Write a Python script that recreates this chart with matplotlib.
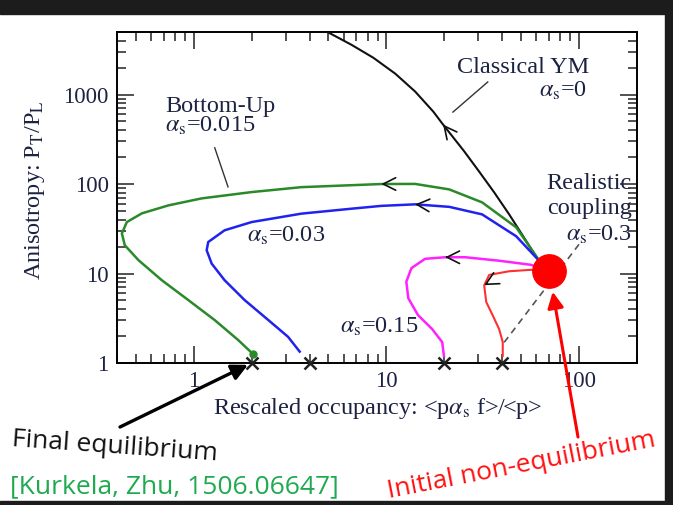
import numpy as np
import matplotlib
matplotlib.use('Agg')
import matplotlib.pyplot as plt
from matplotlib.ticker import LogLocator, NullFormatter, FuncFormatter
from matplotlib.patches import Rectangle

# every trajectory leaves from the initial (non-equilibrium) point
start_x, start_y = 70, 10.6

ym_x = [70, 60.6, 51.3, 43.4, 36.3, 30.3, 25.4, 19.7, 17.52, 14.13, 11.13, 8.56, 6.59, 4.95]
ym_y = [10.6, 14.8, 26.1, 45.8, 80.6, 138, 231, 462, 645, 1077, 1710, 2578, 3600, 5000]

bu_x = [70, 61.3, 47.2, 31.4, 21.2, 14.1, 9.42, 3.63, 2.0, 1.10, 0.739, 0.538,
        0.450, 0.424, 0.439, 0.517, 0.683, 0.939, 1.285, 1.705, 2.04]
bu_y = [10.6, 14.6, 32.8, 62.4, 87.1, 100.3, 100, 92.3, 81.3, 69.1, 57.7, 47.0,
        37.6, 28.1, 20.7, 14.1, 8.42, 5.04, 3.02, 1.80, 1.25]

a03_x = [70, 61.3, 47.2, 31.4, 21.2, 14.1, 9.42, 6.59, 3.63, 2.0, 1.447, 1.19,
         1.168, 1.24, 1.447, 1.84, 2.44, 3.09, 3.55]
a03_y = [10.6, 14.3, 26.1, 45.8, 55.6, 59.3, 57.0, 53.0, 46.7, 37.6, 30.4, 22.5,
         18.2, 12.9, 8.42, 5.04, 3.02, 1.96, 1.34]

a15_x = [70, 56.4, 38.5, 25.7, 20.2, 15.9, 13.5, 12.7, 13.0, 14.6, 17.3, 19.5, 19.9]
a15_y = [10.6, 12.5, 13.9, 15.2, 15.2, 14.6, 11.5, 8.1, 5.3, 3.43, 2.39, 1.71, 1.2]

a3_x = [70, 56.4, 43.4, 34.2, 32.2, 33.0, 35.6, 38.5, 40.2, 40.2]
a3_y = [10.6, 11.0, 10.6, 9.65, 7.4, 4.81, 3.43, 2.39, 1.71, 1.2]

# end points (thermal equilibrium) on the P_T/P_L = 1 line
final_x = [2, 4, 20, 40]
final_y = [1, 1, 1, 1]

dash_x = [40.9, 101]
dash_y = [1.7, 21.8]

x_ticks = [1, 10, 100]
y_ticks = [1, 10, 100, 1000]

serif = 'Liberation Serif'
sans = 'Open Sans'
txt_col = '#1c2242'
plt.rcParams['mathtext.fontset'] = 'stix'


def draw_chevron(ax, xs, ys, i, back=None):
    # open arrow head at point i, pointing away from point `back` (default i-1)
    if back is None:
        back = i - 1
    p0 = ax.transData.transform((xs[back], ys[back]))
    p1 = ax.transData.transform((xs[i], ys[i]))
    d = (p1 - p0) / np.hypot(*(p1 - p0))
    tail = ax.transData.inverted().transform(p1 - 3 * d)
    ax.annotate('', xy=(xs[i], ys[i]), xytext=tail,
                arrowprops=dict(arrowstyle='->,head_length=0.9,head_width=0.45',
                                color='#111111', lw=1.2, shrinkA=0, shrinkB=0,
                                mutation_scale=10))


fig = plt.figure(figsize=(6.73, 5.05), dpi=100)
ax = fig.add_axes([117 / 673, 1 - 363 / 505, 520 / 673, 331 / 505])
ax.set_xscale('log')
ax.set_yscale('log')
ax.set_xlim(0.4, 200)
ax.set_ylim(1, 5000)

ax.plot(dash_x, dash_y, ls=(0, (4, 3)), color='#555555', lw=1.2, zorder=2)
ax.plot(ym_x, ym_y, color='#111111', lw=1.5, zorder=3)
ax.plot(bu_x, bu_y, color='#2a8a2a', lw=1.8, zorder=3)
ax.plot(a03_x, a03_y, color='#2222ee', lw=1.8, zorder=3)
ax.plot(a15_x, a15_y, color='#ff22ff', lw=1.8, zorder=3)
ax.plot(a3_x, a3_y, color='#ff3030', lw=1.5, zorder=3)

draw_chevron(ax, ym_x, ym_y, 7)
draw_chevron(ax, bu_x, bu_y, 6)
draw_chevron(ax, a03_x, a03_y, 5)
draw_chevron(ax, a15_x, a15_y, 4)
draw_chevron(ax, a3_x, a3_y, 4, back=2)

ax.plot(bu_x[-1], bu_y[-1], 'o', ms=5, color='#2a8a2a', zorder=4, clip_on=False)
ax.plot(final_x, final_y, 'x', ms=9, mew=1.8, color='#222222', zorder=6, clip_on=False)
ax.plot(start_x, start_y, 'o', ms=24, color='#ff0000', zorder=7)

# axes styling
for s in ax.spines.values():
    s.set_linewidth(1.4)
ax.xaxis.set_minor_locator(LogLocator(base=10, subs=np.arange(2, 10)))
ax.yaxis.set_minor_locator(LogLocator(base=10, subs=np.arange(2, 10)))
ax.set_xticks(x_ticks)
ax.set_yticks(y_ticks)
fmt = FuncFormatter(lambda v, p: '%g' % v)
ax.xaxis.set_major_formatter(fmt)
ax.yaxis.set_major_formatter(fmt)
ax.xaxis.set_minor_formatter(NullFormatter())
ax.yaxis.set_minor_formatter(NullFormatter())
ax.tick_params(which='both', direction='in', top=True, right=True, width=1.1,
               colors='#222222', labelcolor=txt_col)
ax.tick_params(which='major', length=12, labelsize=16.5, pad=6)
ax.tick_params(which='minor', length=6.5)
for lab in ax.get_xticklabels() + ax.get_yticklabels():
    lab.set_fontfamily(serif)

ax.set_xlabel(r'Rescaled occupancy: <p$\alpha_{\rm s}$ f>/<p>', fontsize=17.5,
              family=serif, color=txt_col, va='center')
ax.xaxis.set_label_coords(0.502, -0.136)
ax.set_ylabel(r'Anisotropy: P$_{\rm T}$/P$_{\rm L}$', fontsize=17.5,
              family=serif, color=txt_col, va='center')
ax.yaxis.set_label_coords(-0.158, 0.523)

# curve labels
tk = dict(transform=ax.transAxes, fontsize=17.5, family=serif, color=txt_col, va='baseline')
ax.text(0.781, 0.876, 'Classical YM', ha='center', **tk)
ax.text(0.904, 0.804, r'$\alpha_{\rm s}$=0', ha='right', **tk)
ax.text(0.092, 0.758, 'Bottom-Up', ha='left', **tk)
ax.text(0.092, 0.698, r'$\alpha_{\rm s}$=0.015', ha='left', **tk)
ax.text(0.25, 0.366, r'$\alpha_{\rm s}$=0.03', ha='left', **tk)
ax.text(0.429, 0.091, r'$\alpha_{\rm s}$=0.15', ha='left', **tk)
ax.text(0.99, 0.526, 'Realistic', ha='right', **tk)
ax.text(0.99, 0.450, 'coupling', ha='right', **tk)
ax.text(0.99, 0.369, r'$\alpha_{\rm s}$=0.3', ha='right', **tk)
ax.plot([0.713, 0.646], [0.849, 0.758], color='#333333', lw=1, transform=ax.transAxes)
ax.plot([0.188, 0.2135], [0.650, 0.532], color='#333333', lw=1, transform=ax.transAxes)

# annotations around the plot
ax.annotate('', xy=(final_x[0], final_y[0]), xycoords='data',
            xytext=(120 / 673, 1 - 427 / 505), textcoords='figure fraction',
            arrowprops=dict(arrowstyle='-|>', lw=2.4, color='black',
                            mutation_scale=24, shrinkA=0, shrinkB=3))
ax.annotate('', xy=(start_x, start_y), xycoords='data',
            xytext=(578 / 673, 1 - 437 / 505), textcoords='figure fraction',
            arrowprops=dict(arrowstyle='-|>', lw=2.2, color='#ff0000',
                            mutation_scale=24, shrinkA=0, shrinkB=15))
fig.text(115 / 673, 1 - 447 / 505, 'Final equilibrium', fontsize=19, family=sans,
         color='#111111', ha='center', va='center', rotation=-4, rotation_mode='anchor')
fig.text(10 / 673, 1 - 487 / 505, '[Kurkela, Zhu, 1506.06647]', fontsize=19,
         family=sans, color='#1faa50', ha='left', va='center')
fig.text(521 / 673, 1 - 466 / 505, 'Initial non-equilibrium', fontsize=19, family=sans,
         color='#ff1010', ha='center', va='center', rotation=11, rotation_mode='anchor')

# dark frame around the slide
frame = '#1c1c1c'
fig.add_artist(Rectangle((0, 1 - 14 / 505), 1, 14 / 505, transform=fig.transFigure,
                         color=frame, zorder=10))
fig.add_artist(Rectangle((1 - 8 / 673, 0), 8 / 673, 1, transform=fig.transFigure,
                         color=frame, zorder=10))
fig.add_artist(Rectangle((0, 0), 1, 4 / 505, transform=fig.transFigure,
                         color=frame, zorder=10))

fig.savefig('out.png', dpi=100)
